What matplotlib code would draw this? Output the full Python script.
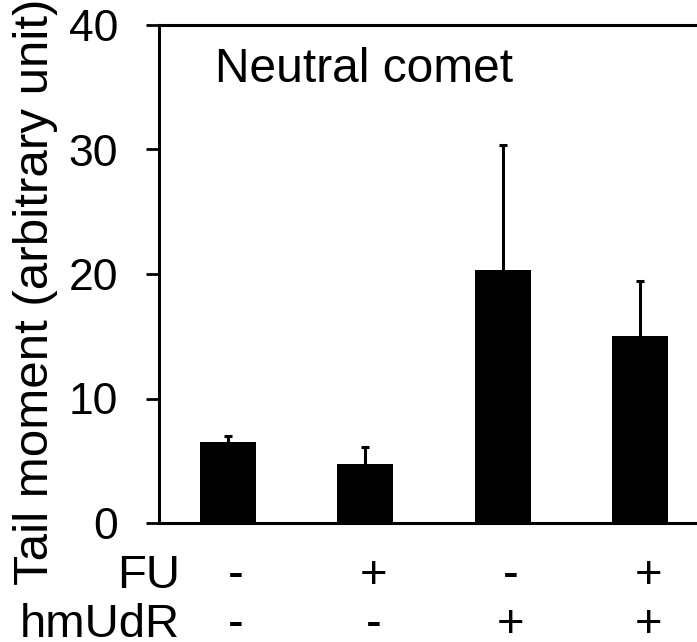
import matplotlib.pyplot as plt
from matplotlib.transforms import blended_transform_factory

plt.rcParams['font.family'] = ['Liberation Sans', 'DejaVu Sans']

conditions = ['FU-/hmUdR-', 'FU+/hmUdR-', 'FU-/hmUdR+', 'FU+/hmUdR+']
tail_moment = [6.5, 4.7, 20.3, 15.0]
tail_err = [0.5, 1.4, 10.1, 4.4]
fu_signs = ['-', '+', '-', '+']
hmudr_signs = ['-', '-', '+', '+']
y_ticks = [0, 10, 20, 30, 40]

W, H = 697, 642
fig = plt.figure(figsize=(W / 100, H / 100), dpi=100)
ax = fig.add_axes([159 / W, 1 - 523 / H, 550 / W, 498 / H])

x = list(range(len(conditions)))
ax.bar(x, tail_moment, width=0.41, color='black', linewidth=0, zorder=2)

# upper error bars only (no cap at the bar top)
tops = [m + e for m, e in zip(tail_moment, tail_err)]
ax.vlines(x, tail_moment, tops, color='black', linewidth=2.2, zorder=3)
ax.hlines(tops, [i - 0.03 for i in x], [i + 0.03 for i in x], color='black',
          linewidth=2.2, zorder=3)

ax.set_xlim(-0.5, 3.5)
ax.set_ylim(0, 40)
ax.set_yticks(y_ticks)
ax.set_xticks([])
ax.tick_params(axis='y', direction='out', length=9.5, width=2, pad=20, labelsize=32)
for side in ['left', 'bottom', 'top']:
    ax.spines[side].set_linewidth(2.2)
ax.spines['right'].set_visible(False)

fig.text(215 / W, 1 - 82 / H, 'Neutral comet', fontsize=34.5, ha='left', va='baseline')
fig.text(36 / W, 1 - 292 / H, 'Tail moment (arbitrary unit)', rotation=90, fontsize=35.5,
         ha='center', va='center')

# treatment rows under the bars
fu_y = 1 - 588 / H
hm_y = 1 - 637 / H
fig.text(180 / W, fu_y, 'FU', fontsize=34, ha='right', va='baseline')
fig.text(180 / W, hm_y, 'hmUdR', fontsize=34, ha='right', va='baseline')
trans = blended_transform_factory(ax.transData, fig.transFigure)
for i in x:
    fig.text(i + 0.06, fu_y, fu_signs[i], transform=trans, fontsize=34, ha='center', va='baseline')
    fig.text(i + 0.06, hm_y, hmudr_signs[i], transform=trans, fontsize=34, ha='center', va='baseline')

fig.savefig('out.png', dpi=100)
